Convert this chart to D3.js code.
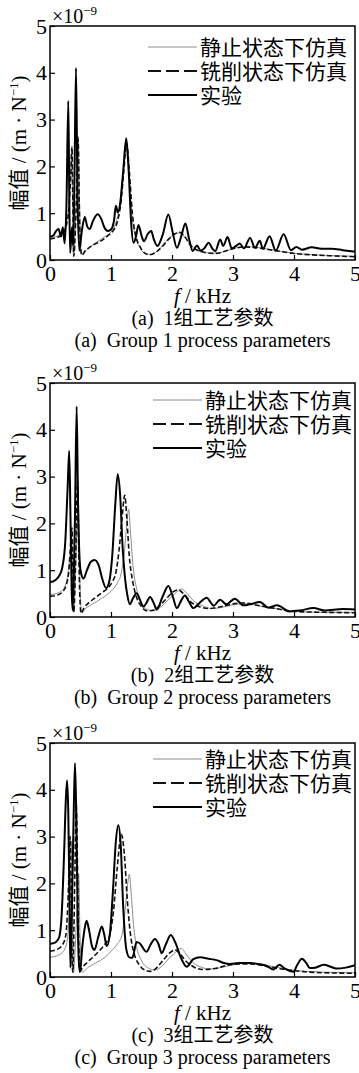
<!DOCTYPE html>
<html>
<head>
<meta charset="utf-8">
<script src="https://cdn.jsdelivr.net/npm/d3@7"></script>
<style>
  body { margin: 0; background: #fff; }
  svg text { font-family: "Liberation Serif", "Times New Roman", "Noto Sans CJK SC", serif !important; fill: #000; }
</style>
</head>
<body>
<script>
// frequency (kHz) / amplitude (1e-9 m/N) pairs
const staticA = [[0,0.48],[0.1,0.5],[0.2,0.58],[0.27,0.8],[0.31,1.2],[0.34,2.0],[0.355,2.35],[0.37,1.3],[0.385,0.1],[0.42,0.9],[0.45,1.8],[0.465,2.5],[0.485,1.1],[0.5,0.3],[0.53,0.12],[0.6,0.22],[0.75,0.37],[0.9,0.5],[1.0,0.6],[1.08,0.8],[1.15,1.25],[1.2,1.9],[1.245,2.4],[1.29,1.9],[1.34,1.0],[1.4,0.5],[1.48,0.25],[1.57,0.13],[1.66,0.12],[1.78,0.22],[1.9,0.4],[2.0,0.52],[2.1,0.58],[2.2,0.5],[2.3,0.33],[2.42,0.2],[2.6,0.15],[2.75,0.15],[2.9,0.2],[3.1,0.27],[3.3,0.28],[3.5,0.25],[3.8,0.18],[4.1,0.13],[4.5,0.1],[5,0.08]];
const millingA = [[0,0.45],[0.1,0.47],[0.2,0.55],[0.27,0.75],[0.31,1.1],[0.34,1.8],[0.36,2.42],[0.375,1.2],[0.39,0.08],[0.42,0.8],[0.44,1.6],[0.46,2.62],[0.48,1.2],[0.5,0.3],[0.52,0.1],[0.58,0.2],[0.65,0.27],[0.75,0.35],[0.85,0.42],[0.95,0.52],[1.02,0.6],[1.1,0.8],[1.16,1.2],[1.21,1.9],[1.255,2.5],[1.3,1.9],[1.35,1.0],[1.4,0.55],[1.47,0.3],[1.55,0.15],[1.63,0.11],[1.75,0.18],[1.85,0.3],[1.95,0.45],[2.05,0.56],[2.13,0.59],[2.22,0.48],[2.3,0.32],[2.4,0.22],[2.55,0.16],[2.7,0.14],[2.85,0.18],[3.0,0.24],[3.2,0.28],[3.4,0.26],[3.6,0.22],[3.8,0.18],[4.0,0.14],[4.3,0.11],[4.6,0.09],[5,0.07]];
const testA = [[0,0.5],[0.05,0.52],[0.1,0.62],[0.14,0.66],[0.18,0.5],[0.21,0.7],[0.24,0.35],[0.27,1.2],[0.3,3.4],[0.315,1.5],[0.33,0.15],[0.36,0.7],[0.38,0.3],[0.4,1.6],[0.426,4.1],[0.45,1.5],[0.48,0.2],[0.52,0.6],[0.57,0.92],[0.61,0.72],[0.65,0.66],[0.7,0.82],[0.78,0.98],[0.84,0.88],[0.89,0.7],[0.95,0.62],[1.0,0.65],[1.05,0.85],[1.08,1.16],[1.11,1.02],[1.15,1.2],[1.2,1.9],[1.25,2.6],[1.29,1.9],[1.33,0.8],[1.37,0.37],[1.41,0.5],[1.45,0.75],[1.5,0.52],[1.54,0.4],[1.6,0.55],[1.66,0.62],[1.7,0.45],[1.76,0.3],[1.85,0.55],[1.94,0.97],[2.01,0.6],[2.08,0.26],[2.15,0.5],[2.22,0.78],[2.28,0.45],[2.34,0.19],[2.41,0.31],[2.47,0.2],[2.53,0.25],[2.6,0.37],[2.66,0.25],[2.71,0.19],[2.79,0.44],[2.84,0.3],[2.91,0.49],[2.98,0.25],[3.05,0.3],[3.11,0.35],[3.18,0.25],[3.28,0.47],[3.36,0.26],[3.44,0.41],[3.49,0.24],[3.6,0.51],[3.7,0.2],[3.83,0.55],[3.95,0.21],[4.04,0.28],[4.13,0.22],[4.29,0.27],[4.45,0.24],[4.62,0.24],[4.8,0.21],[5,0.18]];

const staticB = [[0,0.48],[0.1,0.5],[0.2,0.57],[0.27,0.75],[0.31,1.1],[0.34,1.5],[0.355,1.7],[0.37,0.9],[0.385,0.1],[0.41,0.7],[0.44,1.9],[0.46,2.8],[0.48,1.4],[0.5,0.4],[0.52,0.1],[0.58,0.18],[0.7,0.28],[0.85,0.4],[1.0,0.55],[1.1,0.72],[1.17,0.95],[1.22,1.4],[1.26,2.0],[1.29,2.3],[1.32,1.8],[1.36,1.1],[1.42,0.6],[1.5,0.3],[1.6,0.16],[1.7,0.13],[1.8,0.2],[1.95,0.38],[2.05,0.5],[2.15,0.6],[2.25,0.5],[2.35,0.35],[2.5,0.24],[2.65,0.18],[2.8,0.2],[3.0,0.26],[3.2,0.28],[3.5,0.22],[3.8,0.16],[4.0,0.12],[4.5,0.1],[5,0.1]];
const millingB = [[0,0.44],[0.1,0.46],[0.2,0.53],[0.27,0.7],[0.31,1.0],[0.34,1.6],[0.36,1.9],[0.375,1.0],[0.39,0.1],[0.41,0.7],[0.43,1.8],[0.45,2.9],[0.47,1.5],[0.49,0.4],[0.51,0.08],[0.56,0.2],[0.65,0.32],[0.75,0.42],[0.85,0.52],[0.95,0.62],[1.02,0.75],[1.08,0.95],[1.13,1.4],[1.18,2.1],[1.225,2.6],[1.26,2.1],[1.3,1.3],[1.35,0.8],[1.4,0.5],[1.5,0.22],[1.6,0.13],[1.7,0.15],[1.8,0.25],[1.9,0.38],[2.0,0.52],[2.1,0.58],[2.2,0.48],[2.3,0.33],[2.45,0.22],[2.6,0.18],[2.8,0.22],[3.0,0.28],[3.15,0.3],[3.4,0.25],[3.7,0.18],[4.0,0.12],[4.5,0.1],[5,0.09]];
const testB = [[0,0.75],[0.05,0.76],[0.1,0.8],[0.15,0.88],[0.2,1.05],[0.25,1.6],[0.29,2.8],[0.315,3.55],[0.335,2.2],[0.355,0.6],[0.37,0.15],[0.39,0.8],[0.41,2.2],[0.437,4.5],[0.46,2.4],[0.5,1.0],[0.55,0.82],[0.6,0.98],[0.67,1.18],[0.73,1.22],[0.8,1.1],[0.86,0.8],[0.92,0.62],[0.97,0.75],[1.02,1.3],[1.07,2.4],[1.11,3.05],[1.15,2.6],[1.19,1.5],[1.23,0.83],[1.27,0.45],[1.31,0.27],[1.36,0.4],[1.42,0.51],[1.48,0.35],[1.53,0.22],[1.58,0.3],[1.64,0.43],[1.7,0.3],[1.75,0.16],[1.85,0.45],[1.94,0.66],[2.01,0.45],[2.08,0.19],[2.15,0.35],[2.21,0.46],[2.28,0.32],[2.35,0.19],[2.45,0.3],[2.57,0.41],[2.63,0.32],[2.68,0.24],[2.79,0.37],[2.89,0.27],[3.03,0.39],[3.17,0.25],[3.3,0.28],[3.44,0.32],[3.58,0.2],[3.72,0.25],[3.93,0.12],[4.1,0.14],[4.32,0.19],[4.5,0.14],[4.8,0.17],[5,0.16]];

const staticC = [[0,0.42],[0.1,0.45],[0.2,0.52],[0.27,0.7],[0.31,1.2],[0.34,2.1],[0.355,2.9],[0.37,1.5],[0.385,0.1],[0.42,0.8],[0.45,1.7],[0.47,2.2],[0.49,1.0],[0.51,0.3],[0.53,0.1],[0.6,0.18],[0.75,0.3],[0.9,0.42],[1.0,0.55],[1.1,0.7],[1.18,0.9],[1.23,1.4],[1.27,1.95],[1.3,2.2],[1.33,1.8],[1.37,1.1],[1.42,0.65],[1.5,0.35],[1.6,0.2],[1.72,0.15],[1.85,0.25],[1.95,0.4],[2.05,0.52],[2.15,0.61],[2.25,0.45],[2.35,0.3],[2.5,0.2],[2.6,0.17],[2.8,0.2],[3.0,0.26],[3.3,0.3],[3.6,0.24],[3.9,0.16],[4.2,0.12],[4.6,0.1],[5,0.09]];
const millingC = [[0,0.55],[0.1,0.58],[0.2,0.68],[0.26,0.9],[0.29,1.5],[0.315,2.4],[0.33,3.0],[0.345,2.0],[0.36,0.5],[0.375,0.1],[0.39,0.9],[0.41,2.4],[0.43,3.68],[0.45,2.4],[0.47,0.8],[0.49,0.12],[0.53,0.2],[0.6,0.3],[0.7,0.42],[0.8,0.55],[0.9,0.7],[0.98,0.9],[1.04,1.4],[1.1,2.3],[1.17,3.05],[1.22,2.6],[1.27,1.6],[1.32,0.9],[1.38,0.5],[1.47,0.25],[1.57,0.14],[1.65,0.12],[1.75,0.2],[1.85,0.35],[1.95,0.5],[2.05,0.58],[2.13,0.5],[2.22,0.35],[2.35,0.22],[2.5,0.16],[2.7,0.18],[2.9,0.25],[3.1,0.28],[3.3,0.28],[3.5,0.24],[3.8,0.17],[4.1,0.12],[4.5,0.09],[5,0.08]];
const testC = [[0,0.71],[0.05,0.72],[0.1,0.75],[0.15,0.85],[0.19,1.3],[0.23,2.6],[0.26,3.8],[0.28,4.2],[0.3,3.5],[0.32,1.5],[0.335,0.2],[0.35,0.9],[0.37,2.2],[0.39,3.6],[0.41,4.57],[0.43,3.5],[0.45,1.6],[0.47,0.4],[0.49,0.1],[0.53,0.65],[0.57,1.05],[0.6,1.2],[0.64,1.0],[0.69,0.65],[0.73,0.58],[0.79,0.85],[0.85,1.08],[0.89,0.9],[0.93,0.66],[0.98,0.9],[1.03,1.8],[1.08,2.9],[1.12,3.24],[1.16,2.8],[1.2,1.5],[1.25,0.6],[1.3,0.42],[1.35,0.41],[1.42,0.75],[1.47,0.72],[1.58,0.54],[1.66,0.72],[1.72,0.81],[1.78,0.7],[1.83,0.51],[1.9,0.7],[1.98,0.9],[2.05,0.75],[2.15,0.4],[2.24,0.22],[2.35,0.38],[2.46,0.42],[2.6,0.39],[2.73,0.36],[2.85,0.3],[2.95,0.28],[3.1,0.3],[3.28,0.3],[3.4,0.28],[3.52,0.25],[3.6,0.2],[3.66,0.16],[3.76,0.26],[3.85,0.18],[3.99,0.11],[4.05,0.25],[4.13,0.39],[4.2,0.3],[4.26,0.19],[4.35,0.2],[4.49,0.26],[4.6,0.22],[4.69,0.18],[4.85,0.2],[5,0.25]];

const legendNames = ["静止状态下仿真", "铣削状态下仿真", "实验"];
const xTicks = [0, 1, 2, 3, 4, 5];
const yTicks = [0, 1, 2, 3, 4, 5];
const captionsCn = ["(a)  1组工艺参数", "(b)  2组工艺参数", "(c)  3组工艺参数"];
const captionsEn = ["(a)  Group 1 process parameters", "(b)  Group 2 process parameters", "(c)  Group 3 process parameters"];

const panels = [
  { top: 26, series: [staticA, millingA, testA], legTop: 21, legX: 148 },
  { top: 383, series: [staticB, millingB, testB], legTop: 17, legX: 153 },
  { top: 743, series: [staticC, millingC, testC], legTop: 16, legX: 153 }
];

const W = 359, H = 1073;
const left = 50, width = 305, height = 234;
const serif = '"Liberation Serif", "Noto Sans CJK SC", serif';

const svg = d3.select("body").append("svg")
  .attr("width", W).attr("height", H)
  .attr("font-family", serif);

const x = d3.scaleLinear().domain([0, 5]).range([0, width]);
const y = d3.scaleLinear().domain([0, 5]).range([height, 0]);

const line = d3.line()
  .x(d => x(d[0]))
  .y(d => y(d[1]))
  .curve(d3.curveMonotoneX);

const styles = [
  { stroke: "#8c8c8c", width: 1, dash: null, legDash: null },
  { stroke: "#111", width: 1.6, dash: "5,2.5", legDash: "13,5" },
  { stroke: "#000", width: 2, dash: null, legDash: null }
];

panels.forEach((p, i) => {
  const g = svg.append("g").attr("transform", `translate(${left},${p.top})`);

  g.append("clipPath").attr("id", "clip" + i)
    .append("rect").attr("width", width).attr("height", height);

  // curves
  p.series.forEach((s, k) => {
    g.append("path")
      .datum(s)
      .attr("clip-path", `url(#clip${i})`)
      .attr("fill", "none")
      .attr("stroke", styles[k].stroke)
      .attr("stroke-width", styles[k].width)
      .attr("stroke-dasharray", styles[k].dash)
      .attr("stroke-linejoin", "round")
      .attr("d", line);
  });

  // axes, ticks pointing inward
  const xa = g.append("g")
    .attr("transform", `translate(0,${height})`)
    .call(d3.axisBottom(x).tickValues(xTicks).tickFormat(d3.format("d"))
      .tickSizeInner(-5).tickSizeOuter(0).tickPadding(5));
  const ya = g.append("g")
    .call(d3.axisLeft(y).tickValues(yTicks).tickFormat(d3.format("d"))
      .tickSizeInner(-5).tickSizeOuter(0).tickPadding(3));
  [xa, ya].forEach(a => {
    a.attr("font-family", serif);
    a.selectAll("text").style("font-family", serif).style("font-size", "22px").attr("fill", "#000");
    a.selectAll("line").attr("stroke", "#000").attr("stroke-width", 1.2);
    a.select(".domain").remove();
  });

  g.append("rect")
    .attr("width", width).attr("height", height)
    .attr("fill", "none").attr("stroke", "#000").attr("stroke-width", 1.5);

  // exponent
  const ex = g.append("text").attr("x", 2).attr("y", -3).style("font-size", "20px");
  ex.append("tspan").text("×10");
  ex.append("tspan").attr("dy", -8).style("font-size", "13px").text("−9");

  // y label
  const yl = svg.append("text")
    .attr("transform", `translate(26,${p.top + height / 2}) rotate(-90)`)
    .attr("text-anchor", "middle")
    .style("font-size", "21px");
  yl.append("tspan").text("幅值 / (m · N");
  yl.append("tspan").attr("dy", -8).style("font-size", "13px").text("−1");
  yl.append("tspan").attr("dy", 8).text(")");

  // legend
  styles.forEach((st, k) => {
    const ly = p.legTop + k * 24;
    g.append("line")
      .attr("x1", p.legX - left).attr("x2", p.legX - left + 49)
      .attr("y1", ly).attr("y2", ly)
      .attr("stroke", st.stroke)
      .attr("stroke-width", k === 0 ? 1 : 2)
      .attr("stroke-dasharray", st.legDash);
    g.append("text")
      .attr("x", p.legX - left + 52).attr("y", ly)
      .attr("dy", "0.36em")
      .style("font-size", "21px")
      .text(legendNames[k]);
  });

  // x label and captions
  const xl = g.append("text")
    .attr("x", width / 2).attr("y", height + 43)
    .attr("text-anchor", "middle").style("font-size", "21px");
  xl.append("tspan").style("font-style", "italic").text("f");
  xl.append("tspan").text(" / kHz");

  g.append("text")
    .attr("x", width / 2).attr("y", height + 65)
    .attr("text-anchor", "middle").style("font-size", "20px")
    .style("white-space", "pre")
    .text(captionsCn[i]);
  g.append("text")
    .attr("x", width / 2).attr("y", height + 87)
    .attr("text-anchor", "middle").style("font-size", "20px")
    .style("white-space", "pre")
    .text(captionsEn[i]);
});
</script>
</body>
</html>
